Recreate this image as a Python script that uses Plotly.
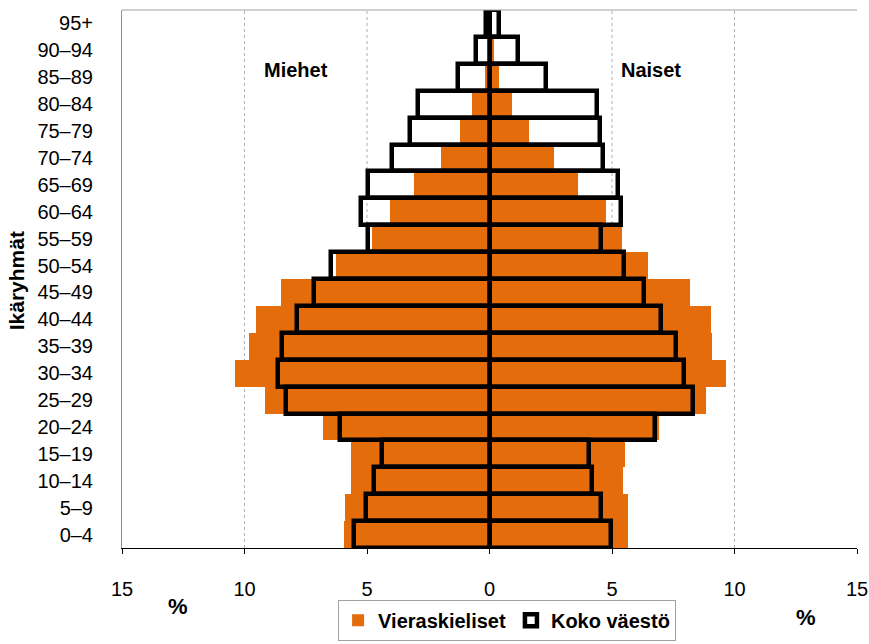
import plotly.graph_objects as go

AGES = ["0–4", "5–9", "10–14", "15–19", "20–24", "25–29", "30–34", "35–39", "40–44",
        "45–49", "50–54", "55–59", "60–64", "65–69", "70–74", "75–79", "80–84",
        "85–89", "90–94", "95+"]

# Vieraskieliset (foreign-language speakers), % of group, men negative
FOREIGN_MEN = [-5.95, -5.9, -5.65, -5.65, -6.8, -9.15, -10.4, -9.8, -9.55, -8.5,
               -6.25, -4.8, -4.05, -3.1, -2.0, -1.2, -0.7, -0.2, -0.05, -0.05]
FOREIGN_WOMEN = [5.65, 5.65, 5.45, 5.55, 6.9, 8.85, 9.65, 9.1, 9.05, 8.2,
                 6.45, 5.4, 4.75, 3.6, 2.65, 1.6, 0.9, 0.4, 0.2, 0.05]

# Koko väestö (whole population)
ALL_MEN = [-5.55, -5.05, -4.7, -4.4, -6.1, -8.3, -8.65, -8.45, -7.85, -7.15,
           -6.45, -4.95, -5.25, -4.95, -4.0, -3.25, -2.9, -1.3, -0.55, -0.15]
ALL_WOMEN = [4.95, 4.55, 4.2, 4.05, 6.75, 8.3, 7.95, 7.6, 7.0, 6.3,
             5.5, 4.55, 5.35, 5.25, 4.65, 4.5, 4.4, 2.3, 1.15, 0.4]

X_TICKS = [-15, -10, -5, 0, 5, 10, 15]
X_TICK_TEXT = ["15", "10", "5", "0", "5", "10", "15"]
GRID_AT = [-10, -5, 5, 10]

ORANGE = "#E46C0A"
FONT = "Liberation Sans, Arial, sans-serif"

fig = go.Figure()
for vals, show in [(FOREIGN_MEN, True), (FOREIGN_WOMEN, False)]:
    fig.add_trace(go.Bar(
        y=AGES, x=vals, orientation="h", name="Vieraskieliset",
        legendgroup="v", showlegend=show,
        marker=dict(color=ORANGE, line=dict(width=0)),
    ))
for vals, show in [(ALL_MEN, True), (ALL_WOMEN, False)]:
    fig.add_trace(go.Bar(
        y=AGES, x=vals, orientation="h", name="Koko väestö",
        legendgroup="k", showlegend=show,
        marker=dict(color="rgba(0,0,0,0)", line=dict(color="black", width=4.5)),
    ))

shapes = [dict(type="line", xref="x", yref="paper", x0=g, x1=g, y0=0, y1=1,
               line=dict(color="#b0b0b0", width=1, dash="dot"), layer="below")
          for g in GRID_AT]
shapes.append(dict(type="line", xref="paper", yref="paper", x0=0, x1=1, y0=1, y1=1,
                   line=dict(color="#a0a0a0", width=1)))


def note(text, x, y, size=20, angle=0):
    return dict(text=text, xref="paper", yref="paper", x=x, y=y,
                xanchor="center", yanchor="middle", showarrow=False,
                textangle=angle, font=dict(size=size))


fig.update_layout(
    width=869, height=644,
    margin=dict(l=122, r=12, t=10, b=96, autoexpand=False),
    paper_bgcolor="white", plot_bgcolor="white",
    font=dict(family=FONT, size=20, color="black"),
    barmode="overlay", bargap=0,
    shapes=shapes,
    xaxis=dict(
        range=[-15, 15], tickvals=X_TICKS, ticktext=X_TICK_TEXT,
        showgrid=False, zeroline=False, automargin=False,
        showline=True, linecolor="black", linewidth=1,
        ticks="outside", ticklen=5, tickcolor="black",
        ticklabelstandoff=18, tickfont=dict(size=20),
    ),
    yaxis=dict(
        showgrid=False, zeroline=False, automargin=False,
        showline=True, linecolor="#909090", linewidth=1,
        ticks="", ticklabelstandoff=24, tickfont=dict(size=20),
    ),
    legend=dict(
        orientation="h", x=0.294, xanchor="left", y=-0.096, yanchor="top",
        bordercolor="#a0a0a0", borderwidth=1, bgcolor="white",
        font=dict(size=20, family=FONT, weight="bold"),
        itemwidth=30, tracegroupgap=0,
    ),
    annotations=[
        note("<b>Miehet</b>", 0.237, 0.888),
        note("<b>Naiset</b>", 0.72, 0.888),
        note("<b>Ikäryhmät</b>", -0.144, 0.496, size=21, angle=-90),
        note("<b>%</b>", 0.076, -0.108, size=22),
        note("<b>%</b>", 0.93, -0.13, size=22),
    ],
)

fig.write_html("out.html", config={"displayModeBar": False},
               post_script="document.body.style.margin='0';document.body.style.overflow='hidden';")
